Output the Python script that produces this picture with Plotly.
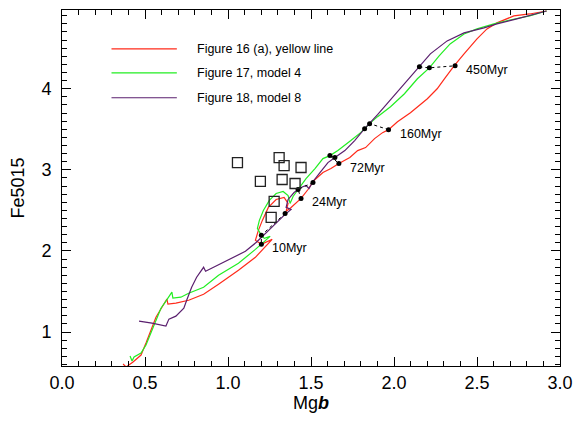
import plotly.graph_objects as go

# ---- data ----
red_x = [0.368, 0.386, 0.428, 0.476, 0.506, 0.536, 0.566, 0.602, 0.632, 0.638, 0.686, 0.763, 0.853, 0.943,
         1.063, 1.165, 1.266, 1.201, 1.165, 1.183, 1.207, 1.243, 1.290, 1.338, 1.362, 1.350, 1.380, 1.440,
         1.482, 1.518, 1.572, 1.620, 1.668, 1.734, 1.781, 1.829, 1.883, 1.931, 1.967, 2.021, 2.099, 2.201,
         2.260, 2.308, 2.362, 2.422, 2.500, 2.560, 2.620, 2.722, 2.817, 2.919]
red_y = [0.606, 0.570, 0.631, 0.717, 0.865, 1.024, 1.184, 1.307, 1.406, 1.344, 1.357, 1.393, 1.467, 1.590,
         1.762, 1.922, 2.143, 2.082, 2.131, 2.254, 2.377, 2.537, 2.635, 2.660, 2.586, 2.488, 2.537, 2.648,
         2.758, 2.869, 2.967, 3.016, 3.078, 3.152, 3.238, 3.275, 3.385, 3.459, 3.496, 3.594, 3.705, 3.877,
         4.000, 4.135, 4.283, 4.430, 4.615, 4.738, 4.812, 4.898, 4.922, 4.959]

green_x = [0.410, 0.422, 0.434, 0.476, 0.506, 0.536, 0.566, 0.596, 0.626, 0.662, 0.668, 0.716, 0.763, 0.853,
           0.943, 1.063, 1.165, 1.213, 1.254, 1.219, 1.201, 1.177, 1.189, 1.213, 1.249, 1.290, 1.332, 1.362,
           1.374, 1.392, 1.422, 1.470, 1.524, 1.572, 1.614, 1.662, 1.740, 1.799, 1.853, 1.901, 1.979, 2.063,
           2.141, 2.213, 2.272, 2.338, 2.422, 2.500, 2.602, 2.698, 2.817, 2.919]
green_y = [0.705, 0.643, 0.693, 0.742, 0.840, 1.000, 1.147, 1.295, 1.381, 1.492, 1.418, 1.430, 1.479, 1.553,
           1.701, 1.848, 2.020, 2.107, 2.180, 2.156, 2.193, 2.279, 2.377, 2.500, 2.623, 2.709, 2.734, 2.684,
           2.586, 2.672, 2.758, 2.893, 3.016, 3.139, 3.176, 3.238, 3.361, 3.459, 3.570, 3.656, 3.779, 3.939,
           4.123, 4.258, 4.406, 4.553, 4.676, 4.738, 4.799, 4.848, 4.898, 4.959]

purple_x = [0.464, 0.542, 0.626, 0.644, 0.686, 0.734, 0.751, 0.781, 0.811, 0.853, 0.865, 0.913, 1.003, 1.105,
            1.171, 1.225, 1.290, 1.344, 1.380, 1.350, 1.362, 1.398, 1.440, 1.470, 1.488, 1.512, 1.554, 1.602,
            1.644, 1.704, 1.763, 1.823, 1.901, 1.979, 2.063, 2.153, 2.219, 2.320, 2.422, 2.542, 2.620, 2.740,
            2.829, 2.919]
purple_y = [1.135, 1.111, 1.074, 1.160, 1.197, 1.295, 1.393, 1.553, 1.676, 1.799, 1.750, 1.799, 1.885, 1.996,
            2.107, 2.217, 2.352, 2.451, 2.512, 2.537, 2.635, 2.721, 2.783, 2.807, 2.770, 2.857, 2.967, 3.090,
            3.152, 3.238, 3.361, 3.508, 3.680, 3.865, 4.061, 4.270, 4.430, 4.590, 4.689, 4.750, 4.799, 4.861,
            4.910, 4.959]

ages = ["10Myr", "24Myr", "72Myr", "160Myr", "450Myr"]
age_purple_x = [1.344, 1.512, 1.644, 1.823, 2.153]
age_purple_y = [2.463, 2.844, 3.152, 3.508, 4.270]
age_green_x = [1.201, 1.422, 1.614, 1.853, 2.213]
age_green_y = [2.193, 2.758, 3.176, 3.570, 4.258]
age_red_x = [1.201, 1.440, 1.668, 1.967, 2.368]
age_red_y = [2.082, 2.648, 3.078, 3.496, 4.283]

obs_x = [1.057, 1.308, 1.338, 1.440, 1.195, 1.326, 1.404, 1.278, 1.260]
obs_y = [3.090, 3.152, 3.053, 3.029, 2.857, 2.881, 2.832, 2.611, 2.414]

series_names = ["Figure 16 (a), yellow line", "Figure 17, model 4", "Figure 18, model 8"]
RED, GREEN, PURPLE = "#ff2a1a", "#22ee22", "#5a1f6e"
FONT = "Liberation Sans, Arial, Helvetica, sans-serif"

fig = go.Figure()
for xs, ys, col, nm in [(red_x, red_y, RED, series_names[0]),
                        (green_x, green_y, GREEN, series_names[1]),
                        (purple_x, purple_y, PURPLE, series_names[2])]:
    fig.add_trace(go.Scatter(x=xs, y=ys, mode="lines", name=nm, showlegend=False,
                             line=dict(color=col, width=1.2)))

# isochrone age connectors
for i, a in enumerate(ages):
    fig.add_trace(go.Scatter(
        x=[age_purple_x[i], age_green_x[i], age_red_x[i]],
        y=[age_purple_y[i], age_green_y[i], age_red_y[i]],
        mode="lines+markers", showlegend=False,
        line=dict(color="black", width=1, dash="dot"),
        marker=dict(color="black", size=5, symbol="circle")))
    fig.add_annotation(x=age_red_x[i], y=age_red_y[i], text=a, showarrow=False,
                       xanchor="left", yanchor="middle", xshift=9, yshift=-4,
                       font=dict(family=FONT, size=12.5, color="black"))

fig.add_trace(go.Scatter(x=obs_x, y=obs_y, mode="markers", showlegend=False,
                         marker=dict(symbol="square-open", size=10, color="#222",
                                     line=dict(width=1.3, color="#222"))))

# manual legend (long line samples as in the reference); pixel positions of the plot frame
L, R_, T, B = 62, 565, 9, 366
def px(p): return (p - L) / (R_ - L)
def py(p): return (B - p) / (B - T)
for nm, col, yy in zip(series_names, [RED, GREEN, PURPLE], [48, 72, 97]):
    fig.add_shape(type="line", xref="paper", yref="paper", x0=px(112), x1=px(178), y0=py(yy), y1=py(yy),
                  line=dict(color=col, width=1.2))
    fig.add_annotation(xref="paper", yref="paper", x=px(196), y=py(yy), text=nm, showarrow=False,
                       xanchor="left", yanchor="middle", font=dict(family=FONT, size=12.5, color="black"))

axis_common = dict(showgrid=False, zeroline=False, showline=True, linecolor="black", linewidth=1,
                   mirror="ticks", ticks="inside", ticklen=9, tickcolor="black", tickwidth=1,
                   tickfont=dict(family=FONT, size=18, color="black"))
fig.update_xaxes(range=[0, 3], tickvals=[0, 0.5, 1.0, 1.5, 2.0, 2.5, 3.0],
                 ticktext=["0.0", "0.5", "1.0", "1.5", "2.0", "2.5", "3.0"],
                 minor=dict(ticks="inside", ticklen=5, dtick=0.1, tickcolor="black", showgrid=False),
                 title=dict(text="Mg<b><i>b</i></b>", font=dict(family=FONT, size=18, color="black"), standoff=2),
                 **axis_common)
fig.update_yaxes(range=[0.582, 4.971], tickvals=[1, 2, 3, 4], ticktext=["1", "2", "3", "4"],
                 minor=dict(ticks="inside", ticklen=5, dtick=0.1, tickcolor="black", showgrid=False),
                 ticklabelstandoff=6,
                 title=dict(text="Fe5015", font=dict(family=FONT, size=18, color="black"), standoff=12),
                 **axis_common)
# full-window figure; body margin removed so the frame lands at x 62..565, y 9..366
fig.update_layout(width=582, height=424, margin=dict(l=62, r=17, t=9, b=58),
                  plot_bgcolor="white", paper_bgcolor="white", showlegend=False, hovermode=False)
fig.write_html("out.html", config={"displayModeBar": False, "staticPlot": True},
               post_script="document.body.style.margin='0';"
                           "document.documentElement.style.overflow='hidden';")
